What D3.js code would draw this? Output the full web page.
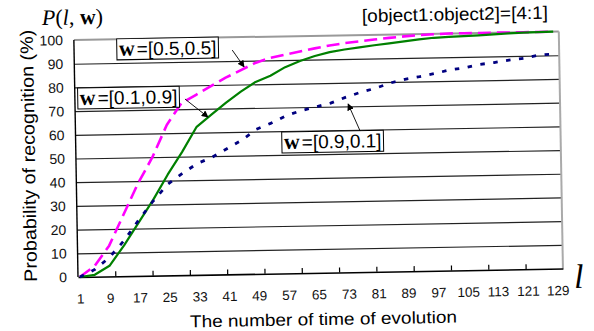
<!DOCTYPE html>
<html>
<head>
<meta charset="utf-8">
<script src="https://cdn.jsdelivr.net/npm/d3@7/dist/d3.min.js"></script>
<style>
  body { margin: 0; background: #fff; }
  svg { display: block; }
</style>
</head>
<body>
<div id="chart"></div>
<script>
// evolution steps at which the curves were read
let steps = [1, 5, 9, 13, 17, 21, 25, 29, 33, 37, 41, 45, 49, 53, 57, 61, 65, 69, 73, 77, 81,
             85, 89, 93, 97, 101, 105, 109, 113, 117, 121, 125, 129];
// probability of recognition (%) for each weight vector
let w55 = [0, 4.5, 13, 26, 39, 50, 63.5, 72.5, 76, 79.5, 83, 86, 89, 91, 92.3, 93.5, 94.7, 95.8,
           96.7, 97.3, 98, 98.6, 99.1, 99.5, 99.8, 100, 100, 100, 100, 100, 100, 100, 100];
let w19 = [0, 0.8, 4.5, 13, 22.5, 32, 42.5, 52, 62.5, 67.5, 72.5, 77, 81, 83.5, 87, 89.5, 91.5,
           93, 94, 94.8, 95.6, 96.3, 97, 97.7, 98.3, 98.6, 98.8, 99, 99.3, 99.6, 99.8, 99.9, 100];
let w91 = [0, 3, 8, 15, 23.5, 31.5, 38.5, 43, 47, 49.5, 53, 56.5, 61, 63.5, 66.5, 68.5, 70, 71.5,
           73.8, 75.8, 77.4, 79.5, 81, 82, 83.2, 84.6, 85.4, 86.7, 87.4, 88.3, 89, 90.2, 90.6];
let stepLabels = [1, 9, 17, 25, 33, 41, 49, 57, 65, 73, 81, 89, 97, 105, 113, 121, 129];
let yTicks = [0, 10, 20, 30, 40, 50, 60, 70, 80, 90, 100];
let nSteps = 130;

let series = [
    {name: "[0.5,0.5]", values: w55, color: "#ff00ff", dash: "13,6", width: 2.6},
    {name: "[0.1,0.9]", values: w19, color: "#008000", dash: null, width: 2.2},
    {name: "[0.9,0.1]", values: w91, color: "#000080", dash: "4.5,8.5", width: 2.8}
];
// label position and arrow (from -> to) in chart units
let notes = [
    {name: "[0.5,0.5]", at: [12.5, 93], from: [42.9, 94.6], to: [46, 87.4]},
    {name: "[0.1,0.9]", at: [1.8, 72.6], from: [30, 74.3], to: [36.1, 66.5]},
    {name: "[0.9,0.1]", at: [56.3, 52.5], from: [76.8, 59.5], to: [73.7, 71]}
];

let sans = "'Liberation Sans', Arial, sans-serif";
let serif = "'Liberation Serif', 'Times New Roman', serif";

let margin = {left: 78, top: 40},
    width = 485,
    height = 237;

let svg = d3.select("#chart").append("svg").attr("width", 594).attr("height", 331);
// the scanned figure is tilted by about one degree
let tilted = svg.append("g").attr("transform", `rotate(-1, ${margin.left}, ${margin.top + height})`);
let g = tilted.append("g").attr("transform", `translate(${margin.left}, ${margin.top})`);

let x = d3.scaleLinear().domain([0.5, nSteps + 0.5]).range([0, width]);
let y = d3.scaleLinear().domain([0, 100]).range([height, 0]);

let defs = svg.append("defs");
defs.append("marker").attr("id", "head").attr("viewBox", "0 0 10 10")
    .attr("refX", 9).attr("refY", 5).attr("markerWidth", 7).attr("markerHeight", 7)
    .attr("orient", "auto").attr("markerUnits", "userSpaceOnUse")
    .append("path").attr("d", "M0,0L10,5L0,10z").attr("fill", "#000");

//Horizontal grid lines
let grid = g.append("g").call(d3.axisLeft(y).tickValues(yTicks.slice(1, -1)).tickSize(-width).tickFormat(""));
grid.select(".domain").remove();
grid.selectAll("line").attr("stroke", "#222").attr("stroke-width", 1.2);

//Frame: grey top and right, black left
g.append("line").attr("x1", 0).attr("x2", width).attr("y1", y(100)).attr("y2", y(100))
    .attr("stroke", "#999").attr("stroke-width", 2);
g.append("line").attr("x1", width).attr("x2", width).attr("y1", 0).attr("y2", height)
    .attr("stroke", "#aaa").attr("stroke-width", 2);
g.append("line").attr("x1", 0).attr("x2", 0).attr("y1", 0).attr("y2", height)
    .attr("stroke", "#000").attr("stroke-width", 1.4);

//Bottom axis with inside tick marks every 10 steps
let xMarks = g.append("g").attr("transform", `translate(0, ${height})`)
    .call(d3.axisBottom(x).tickValues(d3.range(10.5, nSteps, 10)).tickSizeInner(-5).tickSizeOuter(0).tickFormat(""));
xMarks.select(".domain").attr("stroke", "#000").attr("stroke-width", 1.6);
xMarks.selectAll("line").attr("stroke", "#000").attr("stroke-width", 1.2);

let xLabels = g.append("g").attr("transform", `translate(0, ${height})`)
    .call(d3.axisBottom(x).tickValues(stepLabels).tickSize(0).tickPadding(17));
xLabels.select(".domain").remove();
xLabels.selectAll("text").attr("font-family", sans).attr("font-size", 13.5).attr("fill", "#111");

let yLabels = g.append("g").call(d3.axisLeft(y).tickValues(yTicks).tickSize(0).tickPadding(11));
yLabels.select(".domain").remove();
yLabels.selectAll("text").attr("font-family", sans).attr("font-size", 14).attr("fill", "#111");

//Curves
let line = d3.line().x((d, i) => x(steps[i])).y(d => y(d));
g.selectAll(".curve").data(series).enter().append("path")
    .attr("class", "curve")
    .attr("d", d => line(d.values))
    .attr("fill", "none")
    .attr("stroke", d => d.color)
    .attr("stroke-width", d => d.width)
    .attr("stroke-dasharray", d => d.dash)
    .attr("stroke-linejoin", "round");

//Boxed labels with arrows
notes.forEach(n => {
    let ng = g.append("g");
    let t = ng.append("text").attr("x", x(n.at[0])).attr("y", y(n.at[1]));
    t.append("tspan").attr("font-family", serif).attr("font-weight", "bold").attr("font-size", 22).text("w");
    t.append("tspan").attr("font-family", sans).attr("font-size", 19).attr("dx", 2).text("=" + n.name);
    let bb = t.node().getBBox();
    ng.insert("rect", "text")
        .attr("x", bb.x - 2).attr("y", y(n.at[1]) - 17)
        .attr("width", bb.width + 4).attr("height", 21)
        .attr("fill", "#fff").attr("stroke", "#000").attr("stroke-width", 1);
    ng.append("line")
        .attr("x1", x(n.from[0])).attr("y1", y(n.from[1]))
        .attr("x2", x(n.to[0])).attr("y2", y(n.to[1]))
        .attr("stroke", "#000").attr("stroke-width", 0.9)
        .attr("marker-end", "url(#head)");
});

//Titles
let pl = g.append("text").attr("x", -31.6).attr("y", -15.6).attr("font-family", serif).attr("font-size", 22);
pl.append("tspan").attr("font-style", "italic").text("P");
pl.append("tspan").text("(");
pl.append("tspan").attr("font-style", "italic").text("l");
pl.append("tspan").text(", ");
pl.append("tspan").attr("font-weight", "bold").text("w");
pl.append("tspan").text(")");

g.append("text").attr("x", 288.5).attr("y", -13)
    .attr("font-family", sans).attr("font-size", 18).attr("textLength", 186).attr("lengthAdjust", "spacingAndGlyphs")
    .text("[object1:object2]=[4:1]");

g.append("text").attr("x", width + 11).attr("y", height + 19.7)
    .attr("font-family", serif).attr("font-style", "italic").attr("font-size", 34)
    .text("l");

g.append("text").attr("transform", `translate(-41, 115) rotate(-90)`)
    .attr("text-anchor", "middle").attr("font-family", sans).attr("font-size", 18)
    .attr("textLength", 252).attr("lengthAdjust", "spacingAndGlyphs")
    .text("Probability of recognition (%)");

g.append("text").attr("x", 244.7).attr("y", height + 52.3)
    .attr("text-anchor", "middle").attr("font-family", sans).attr("font-size", 17)
    .attr("textLength", 267).attr("lengthAdjust", "spacingAndGlyphs")
    .text("The number of time of evolution");
</script>
</body>
</html>
